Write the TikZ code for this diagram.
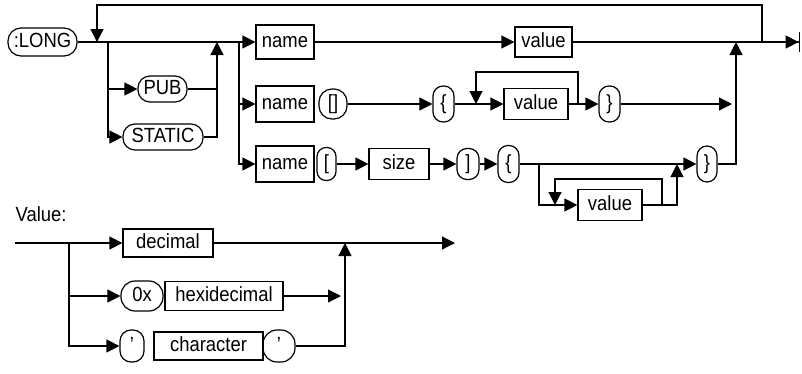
\documentclass[tikz,border=0pt]{standalone}
\usepackage{fontspec}
\setmainfont{Liberation Sans}[FakeStretch=0.9]
\usetikzlibrary{arrows.meta}

\tikzset{
    box/.style={draw, rectangle, inner sep=0pt, text height=14.5pt, text depth=4pt,
        font=\fontsize{20.5}{24}\selectfont},
    term/.style={box, rounded corners=#1},
    term/.default=10pt,
    flow/.style={-{Triangle[length=13pt,width=13pt]}},
    exitflow/.style={-{Triangle[length=13pt,width=13pt,sep=0pt]Bar[width=20pt,line width=1.4pt]}}
}

\begin{document}
\begin{tikzpicture}[x=1pt, y=-1pt, line width=1.2pt]
    \useasboundingbox (0,0) rectangle (802,373);

    % Declaration: first row
    \node[term=13pt, minimum width=69pt, minimum height=28pt] (long) at (42.5,42) {:LONG};
    \node[term=12pt, minimum width=49pt, minimum height=26pt] (pub) at (162.5,89) {PUB};
    \node[term=12pt, minimum width=80pt, minimum height=26pt] (static) at (163,137) {STATIC};
    \node[box, minimum width=58pt, minimum height=34pt] (name1) at (285,42) {name};
    \node[box, minimum width=57pt, minimum height=30pt] (value1) at (543.5,42) {value};

    % Declaration: array row
    \node[box, minimum width=58pt, minimum height=36pt] (name2) at (285,104) {name};
    \node[term=13pt, minimum width=28pt, minimum height=30pt] (brk) at (333,104) {[]};
    \node[term=10pt, minimum width=21pt, minimum height=36pt] (lbrA) at (443.5,104) {\{};
    \node[box, minimum width=64pt, minimum height=31pt] (value2) at (536,104) {value};
    \node[term=10pt, minimum width=21pt, minimum height=36pt] (rbrA) at (609.5,104) {\}};

    % Declaration: sized array row
    \node[box, minimum width=58pt, minimum height=36pt] (name3) at (285,164) {name};
    \node[term=9pt, minimum width=19pt, minimum height=33pt] (lbrk) at (326.5,164) {[};
    \node[box, minimum width=60pt, minimum height=31pt] (size) at (399,164) {size};
    \node[term=10pt, minimum width=22pt, minimum height=31pt] (rbrk) at (468,164) {]};
    \node[term=10pt, minimum width=21pt, minimum height=37pt] (lbrB) at (508.5,164) {\{};
    \node[term=10pt, minimum width=20pt, minimum height=36pt] (rbrB) at (707,164) {\}};
    \node[box, minimum width=64pt, minimum height=31pt] (value3) at (610,205) {value};

    % Junctions
    \coordinate (loopL) at (97,42);
    \coordinate (loopR) at (762,42);
    \coordinate (b1) at (108,42);
    \coordinate (up1) at (217,42);
    \coordinate (b2) at (239,42);
    \coordinate (upR) at (736,42);
    \coordinate (exit) at (800,42);
    \coordinate (l2L) at (476,104);
    \coordinate (l2R) at (578,104);
    \coordinate (b3) at (539,164);
    \coordinate (l3L) at (555,205);
    \coordinate (l3R) at (662,205);
    \coordinate (up3) at (677,164);

    % Main line and modifiers
    \draw[flow] (long.east) -- (name1.west);
    \draw[flow] (loopR) -- ++(0,-37) -| (loopL);
    \draw[flow] (b1) |- (pub.west);
    \draw[flow] (b1) |- (static.west);
    \draw (pub.east) -- (pub.east -| up1);
    \draw[flow] (static.east) -| (up1);
    \draw[flow] (b2) |- (name2.west);
    \draw[flow] (b2) |- (name3.west);
    \draw[flow] (name1.east) -- (value1.west);
    \draw[exitflow] (value1.east) -- (exit);

    % Array with initial values
    \draw[flow] (brk.east) -- (lbrA.west);
    \draw[flow] (lbrA.east) -- (value2.west);
    \draw (value2.east) -- (l2R);
    \draw[flow] (l2R) -- ++(0,-32) -| (l2L);
    \draw[flow] (l2R) -- (rbrA.west);
    \draw[flow, shorten >=4pt] (rbrA.east) -- (rbrA.east -| upR);

    % Array with size
    \draw[flow] (lbrk.east) -- (size.west);
    \draw[flow] (size.east) -- (rbrk.west);
    \draw[flow] (rbrk.east) -- (lbrB.west);
    \draw[flow] (lbrB.east) -- (rbrB.west);
    \draw[flow] (b3) |- (value3.west);
    \draw (value3.east) -- (l3R);
    \draw[flow] (l3R) -- ++(0,-26) -| (l3L);
    \draw[flow] (l3R) -| (up3);
    \draw[flow] (rbrB.east) -| (upR);

    % Value
    \node[anchor=base west, inner sep=0pt, font=\fontsize{20.5}{24}\selectfont] (vlabel) at (15,221) {Value:};
    \node[box, minimum width=90pt, minimum height=28pt] (dec) at (168,243) {decimal};
    \node[term=14pt, minimum width=42pt, minimum height=30pt] (zx) at (142,296) {0x};
    \node[box, minimum width=118pt, minimum height=29pt] (hex) at (224,296) {hexidecimal};
    \node[term=11pt, minimum width=24pt, minimum height=32pt] (q1) at (132,346) {'};
    \node[box, minimum width=109pt, minimum height=28pt] (chr) at (208.5,346) {character};
    \node[term=14pt, minimum width=32pt, minimum height=32pt] (q2) at (279,346) {'};

    \coordinate (vin) at (15,243);
    \coordinate (vb) at (69,243);
    \coordinate (vup) at (345,243);
    \coordinate (vout) at (455,243);

    \draw[flow] (vin) -- (dec.west);
    \draw[flow] (dec.east) -- (vout);
    \draw[flow] (vb) |- (zx.west);
    \draw[flow] (vb) |- (q1.west);
    \draw[flow, shorten >=4pt] (hex.east) -- (hex.east -| vup);
    \draw[flow] (q2.east) -| (vup);

\end{tikzpicture}
\end{document}
